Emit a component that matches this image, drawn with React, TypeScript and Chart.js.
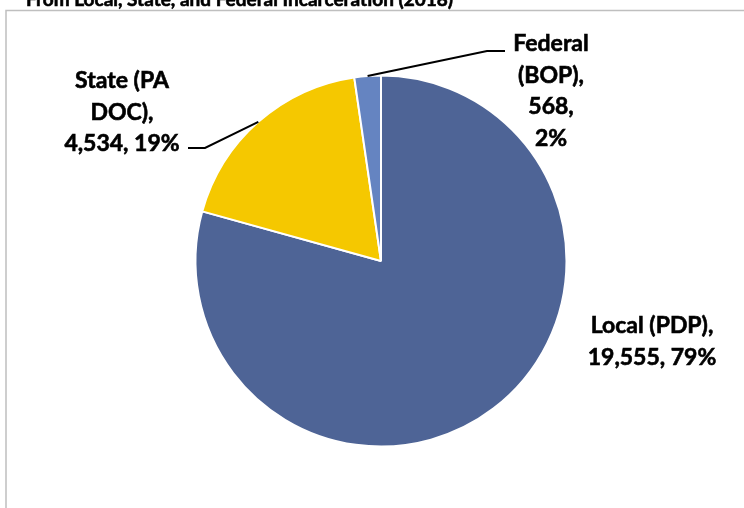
import React, { useEffect, useRef } from "react";
import { Chart, registerables } from "chart.js";

Chart.register(...registerables);

// ---- data ----
const categories = ["Local (PDP)", "State (PA DOC)", "Federal (BOP)"];
const values = [19555, 4534, 568];
const percentLabels = ["79%", "19%", "2%"];
const colors = ["#4E6496", "#F5C800", "#6584C1"];
const titleText = "From Local, State, and Federal Incarceration (2018)";

// label text lines (as wrapped in the reference)
const labelLines = [
  ["Local (PDP),", "19,555, 79%"],
  ["State (PA", "DOC),", "4,534, 19%"],
  ["Federal", "(BOP),", "568,", "2%"],
];
// label block placement: centre x, first-line centre y
const labelPos = [
  { x: 652, y: 326 },
  { x: 122, y: 81 },
  { x: 551, y: 44 },
];
const lineGap = 31.5;
// leader lines: elbow + end (null = no leader)
const leaders: ({ elbow: [number, number]; end: [number, number] } | null)[] = [
  null,
  { elbow: [205, 148], end: [188, 148] },
  { elbow: [487, 51], end: [505, 51] },
];

const FONT = "bold 23px Lato, 'Open Sans', sans-serif";

const labelPlugin = {
  id: "customLabels",
  beforeDraw(chart: any) {
    const ctx = chart.ctx;
    ctx.save();
    ctx.strokeStyle = "#BFBFBF";
    ctx.lineWidth = 1.5;
    ctx.beginPath();
    ctx.moveTo(6, 508);
    ctx.lineTo(6, 10.5);
    ctx.lineTo(744, 10.5);
    ctx.stroke();
    ctx.fillStyle = "#000";
    ctx.strokeStyle = "#000";
    ctx.lineWidth = 0.6;
    ctx.font = "bold 19px Lato, 'Open Sans', sans-serif";
    ctx.textAlign = "left";
    ctx.textBaseline = "alphabetic";
    ctx.fillText(titleText, 26, 5.5);
    ctx.strokeText(titleText, 26, 5.5);
    ctx.restore();
  },
  afterDraw(chart: any) {
    const ctx = chart.ctx;
    const meta = chart.getDatasetMeta(0);
    ctx.save();
    meta.data.forEach((arc: any, i: number) => {
      const lead = leaders[i];
      if (lead) {
        const mid = (arc.startAngle + arc.endAngle) / 2;
        const sx = arc.x + Math.cos(mid) * arc.outerRadius;
        const sy = arc.y + Math.sin(mid) * arc.outerRadius;
        ctx.strokeStyle = "#000";
        ctx.lineWidth = 2;
        ctx.beginPath();
        ctx.moveTo(sx, sy);
        ctx.lineTo(lead.elbow[0], lead.elbow[1]);
        ctx.lineTo(lead.end[0], lead.end[1]);
        ctx.stroke();
      }
      ctx.fillStyle = "#000";
      ctx.strokeStyle = "#000";
      ctx.lineWidth = 0.6;
      ctx.font = FONT;
      ctx.textAlign = "center";
      ctx.textBaseline = "middle";
      labelLines[i].forEach((t, j) => {
        ctx.fillText(t, labelPos[i].x, labelPos[i].y + j * lineGap);
        ctx.strokeText(t, labelPos[i].x, labelPos[i].y + j * lineGap);
      });
    });
    ctx.restore();
  },
};

export default function App() {
  const ref = useRef<HTMLCanvasElement | null>(null);
  useEffect(() => {
    if (!ref.current) return;
    const chart = new Chart(ref.current, {
      type: "pie",
      data: {
        labels: categories.map((c, i) => `${c}, ${values[i].toLocaleString("en-US")}, ${percentLabels[i]}`),
        datasets: [
          {
            data: values,
            backgroundColor: colors,
            borderColor: "#FFFFFF",
            borderWidth: 2,
          },
        ],
      },
      options: {
        responsive: false,
        animation: false,
        devicePixelRatio: 1,
        layout: { padding: { left: 194.5, right: 176.5, top: 74.5, bottom: 60.5 } },
        plugins: {
          legend: { display: false },
          tooltip: { enabled: false },
          title: { display: false },
        },
      },
      plugins: [labelPlugin],
    });
    return () => chart.destroy();
  }, []);
  return (
    <div style={{ position: "absolute", left: 0, top: 0, width: 744, height: 508, background: "#fff" }}>
      <canvas ref={ref} width={744} height={508} />
    </div>
  );
}
